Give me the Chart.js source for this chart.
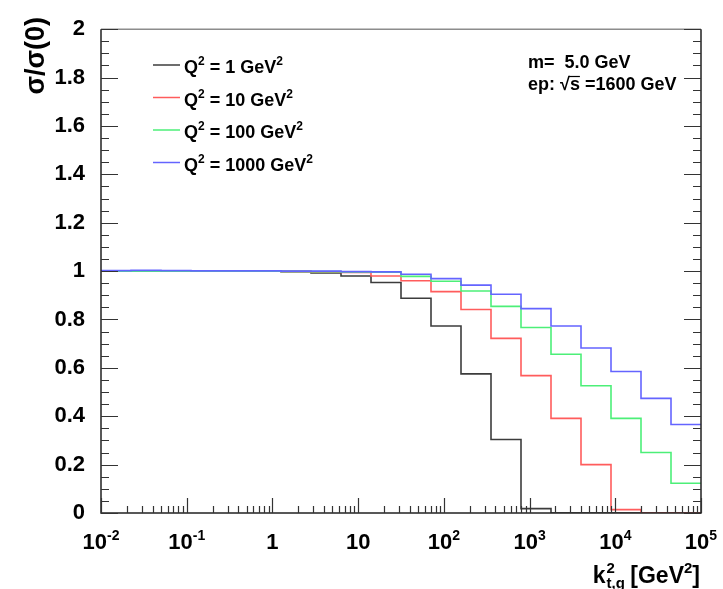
<!DOCTYPE html>
<html>
<head>
<meta charset="utf-8">
<script src="https://cdn.jsdelivr.net/npm/chart.js@4.4.1/dist/chart.umd.min.js"></script>
<style>
  html, body { margin: 0; padding: 0; background: #fff; }
  #wrap { width: 723px; height: 589px; }
</style>
</head>
<body>
<div id="wrap"><canvas id="chart" width="723" height="589"></canvas></div>
<script>
// histogram bin edges, log10(k_t,g^2 / GeV^2)
const binEdgesLog = [-2, -1.65, -1.3, -0.95, -0.6, -0.25, 0.1, 0.45, 0.8, 1.15, 1.5,
                     1.85, 2.2, 2.55, 2.9, 3.25, 3.6, 3.95, 4.3, 4.65, 5];

// sigma/sigma(0) per bin, one list per Q^2
const q2Values = ['1', '10', '100', '1000'];
const ratioQ2_1 = [1.0, 1.0, 1.0, 1.0, 1.0, 1.0, 0.998, 0.992, 0.98, 0.953, 0.888,
                   0.773, 0.575, 0.304, 0.018, 0, 0, 0, 0, 0];
const ratioQ2_10 = [1.0, 1.0, 1.0, 1.0, 1.0, 1.0, 0.999, 0.997, 0.994, 0.98, 0.96,
                    0.915, 0.841, 0.722, 0.568, 0.391, 0.2, 0.014, 0, 0];
const ratioQ2_100 = [1.0, 1.0, 1.0, 1.0, 1.0, 1.0, 0.999, 0.998, 0.996, 0.995, 0.978,
                     0.958, 0.918, 0.854, 0.767, 0.656, 0.526, 0.391, 0.25, 0.123];
const ratioQ2_1000 = [1.002, 1.003, 1.002, 1.001, 1.001, 1.001, 1.0, 1.0, 0.998, 0.997, 0.987,
                      0.969, 0.942, 0.904, 0.845, 0.773, 0.682, 0.585, 0.474, 0.366];
const lineColors = ['#3c3c3c', '#ff5c5c', '#4cef78', '#6464ff'];

// axis ticks
const xTickValues = [0.01, 0.1, 1, 10, 100, 1000, 10000, 100000];
const xTickBase = ['10', '10', '1', '10', '10', '10', '10', '10'];
const xTickExp = ['-2', '-1', '', '', '2', '3', '4', '5'];

const FONT = '"Liberation Sans", Arial, Helvetica, sans-serif';

function stepPoints(vals) {
    const pts = vals.map((v, i) => ({ x: Math.pow(10, binEdgesLog[i]), y: v }));
    pts.push({ x: Math.pow(10, binEdgesLog[binEdgesLog.length - 1]), y: vals[vals.length - 1] });
    return pts;
}

const allRatios = [ratioQ2_1, ratioQ2_10, ratioQ2_100, ratioQ2_1000];
const datasets = allRatios.map((vals, i) => ({
    label: 'Q2 = ' + q2Values[i] + ' GeV2',
    data: stepPoints(vals),
    borderColor: lineColors[i],
    borderWidth: 1.6,
    pointRadius: 0,
    fill: false,
    stepped: true,
    order: allRatios.length - i
}));

// text with simple superscripts: parts = [[text, 'n'|'sup'], ...]
function richWidth(ctx, parts, size) {
    let w = 0;
    parts.forEach(p => {
        ctx.font = 'bold ' + (p[1] === 'sup' ? Math.round(size * 0.65) : size) + 'px ' + FONT;
        w += ctx.measureText(p[0]).width;
    });
    return w;
}
function drawRich(ctx, parts, x, y, size) {
    parts.forEach(p => {
        const sup = p[1] === 'sup';
        ctx.font = 'bold ' + (sup ? Math.round(size * 0.65) : size) + 'px ' + FONT;
        ctx.fillText(p[0], x, sup ? y - size * 0.42 : y);
        x += ctx.measureText(p[0]).width;
    });
    return x;
}

const rootFrame = {
    id: 'rootFrame',
    afterDraw(chart) {
        const { ctx, chartArea: { left, right, top, bottom }, scales: { x, y } } = chart;
        ctx.save();

        // frame
        ctx.lineWidth = 1.5;
        ctx.strokeStyle = '#8c8c8c';
        ctx.beginPath(); ctx.moveTo(left, top); ctx.lineTo(right, top); ctx.stroke();
        ctx.strokeStyle = '#222';
        ctx.beginPath();
        ctx.moveTo(left, top); ctx.lineTo(left, bottom); ctx.lineTo(right, bottom); ctx.lineTo(right, top);
        ctx.stroke();

        // y ticks, left and right, pointing inward
        ctx.lineWidth = 1.2;
        ctx.strokeStyle = '#333';
        ctx.beginPath();
        for (let i = 0; i <= 40; i++) {
            const py = Math.round(y.getPixelForValue(i * 0.05)) + 0.5;
            const len = i % 4 === 0 ? 17 : 8;
            ctx.moveTo(left, py); ctx.lineTo(left + len, py);
            ctx.moveTo(right, py); ctx.lineTo(right - len, py);
        }
        // x ticks (log), pointing up
        for (let d = -2; d <= 5; d++) {
            for (let m = 1; m <= 9; m++) {
                const v = m * Math.pow(10, d);
                if (v > 100001) break;
                const px = Math.round(x.getPixelForValue(v)) + 0.5;
                const len = m === 1 ? 15 : 7;
                ctx.moveTo(px, bottom); ctx.lineTo(px, bottom - len);
            }
        }
        ctx.stroke();

        // x tick labels
        ctx.fillStyle = '#000';
        ctx.textAlign = 'left';
        ctx.textBaseline = 'alphabetic';
        xTickValues.forEach((v, i) => {
            const parts = [[xTickBase[i], 'n']];
            if (xTickExp[i]) parts.push([xTickExp[i], 'sup']);
            const w = richWidth(ctx, parts, 22);
            drawRich(ctx, parts, x.getPixelForValue(v) - w / 2, 549, 22);
        });

        // x title: k^2_{t,g} [GeV^2]
        {
            const size = 23, small = 15;
            ctx.font = 'bold ' + size + 'px ' + FONT;
            const wk = ctx.measureText('k').width;
            ctx.font = 'bold ' + small + 'px ' + FONT;
            const wsub = Math.max(ctx.measureText('2').width, ctx.measureText('t,g').width);
            const rest = [[' [GeV', 'n'], ['2', 'sup'], [']', 'n']];
            const total = wk + wsub + richWidth(ctx, rest, size);
            let sx = 700 - total;
            const by = 583;
            ctx.font = 'bold ' + size + 'px ' + FONT;
            ctx.fillText('k', sx, by);
            sx += wk + 1;
            ctx.font = 'bold ' + small + 'px ' + FONT;
            ctx.fillText('2', sx, by - 10);
            ctx.fillText('t,g', sx, by + 5);
            drawRich(ctx, rest, sx + wsub - 1, by, size);
        }

        // y title
        ctx.save();
        ctx.translate(37, 17);
        ctx.rotate(-Math.PI / 2);
        ctx.font = 'bold 27px ' + FONT;
        ctx.textAlign = 'right';
        ctx.textBaseline = 'middle';
        ctx.fillText('\u03c3/\u03c3(0)', 0, 0);
        ctx.restore();

        // legend
        const rowY = [65, 97.5, 130, 162.5];
        q2Values.forEach((q, i) => {
            ctx.strokeStyle = lineColors[i];
            ctx.lineWidth = 1.5;
            ctx.beginPath(); ctx.moveTo(153, rowY[i]); ctx.lineTo(180, rowY[i]); ctx.stroke();
            ctx.fillStyle = '#000';
            drawRich(ctx, [['Q', 'n'], ['2', 'sup'], [' = ' + q + ' GeV', 'n'], ['2', 'sup']],
                     184, rowY[i] + 8, 18);
        });

        // info text
        ctx.font = 'bold 18px ' + FONT;
        ctx.fillText('m=  5.0 GeV', 528, 68);
        const info = 'ep: \u221as =1600 GeV';
        ctx.fillText(info, 528, 90);
        const pre = ctx.measureText('ep: \u221a').width;
        const sw = ctx.measureText('s').width;
        ctx.lineWidth = 1.2;
        ctx.strokeStyle = '#000';
        ctx.beginPath(); ctx.moveTo(528 + pre - 1, 76.5); ctx.lineTo(528 + pre + sw, 76.5); ctx.stroke();

        ctx.restore();
    }
};

const chart = new Chart(document.getElementById('chart'), {
    type: 'line',
    data: { datasets: datasets },
    options: {
        responsive: false,
        animation: false,
        devicePixelRatio: 1,
        layout: { padding: { left: 0, right: 22, top: 17, bottom: 0 } },
        plugins: { legend: { display: false }, tooltip: { enabled: false } },
        scales: {
            x: {
                type: 'logarithmic',
                min: 0.01,
                max: 100000,
                grid: { display: false, drawTicks: false },
                border: { display: false },
                ticks: { display: false },
                afterFit: s => { s.height = 76; }
            },
            y: {
                min: 0,
                max: 2,
                grid: { display: false, drawTicks: false },
                border: { display: false },
                ticks: {
                    stepSize: 0.2,
                    padding: 16,
                    color: '#000',
                    font: { family: FONT, weight: 'bold', size: 22 },
                    callback: v => String(Number(v.toFixed(1)))
                },
                afterFit: s => { s.width = 101; }
            }
        }
    },
    plugins: [rootFrame]
});
</script>
</body>
</html>
